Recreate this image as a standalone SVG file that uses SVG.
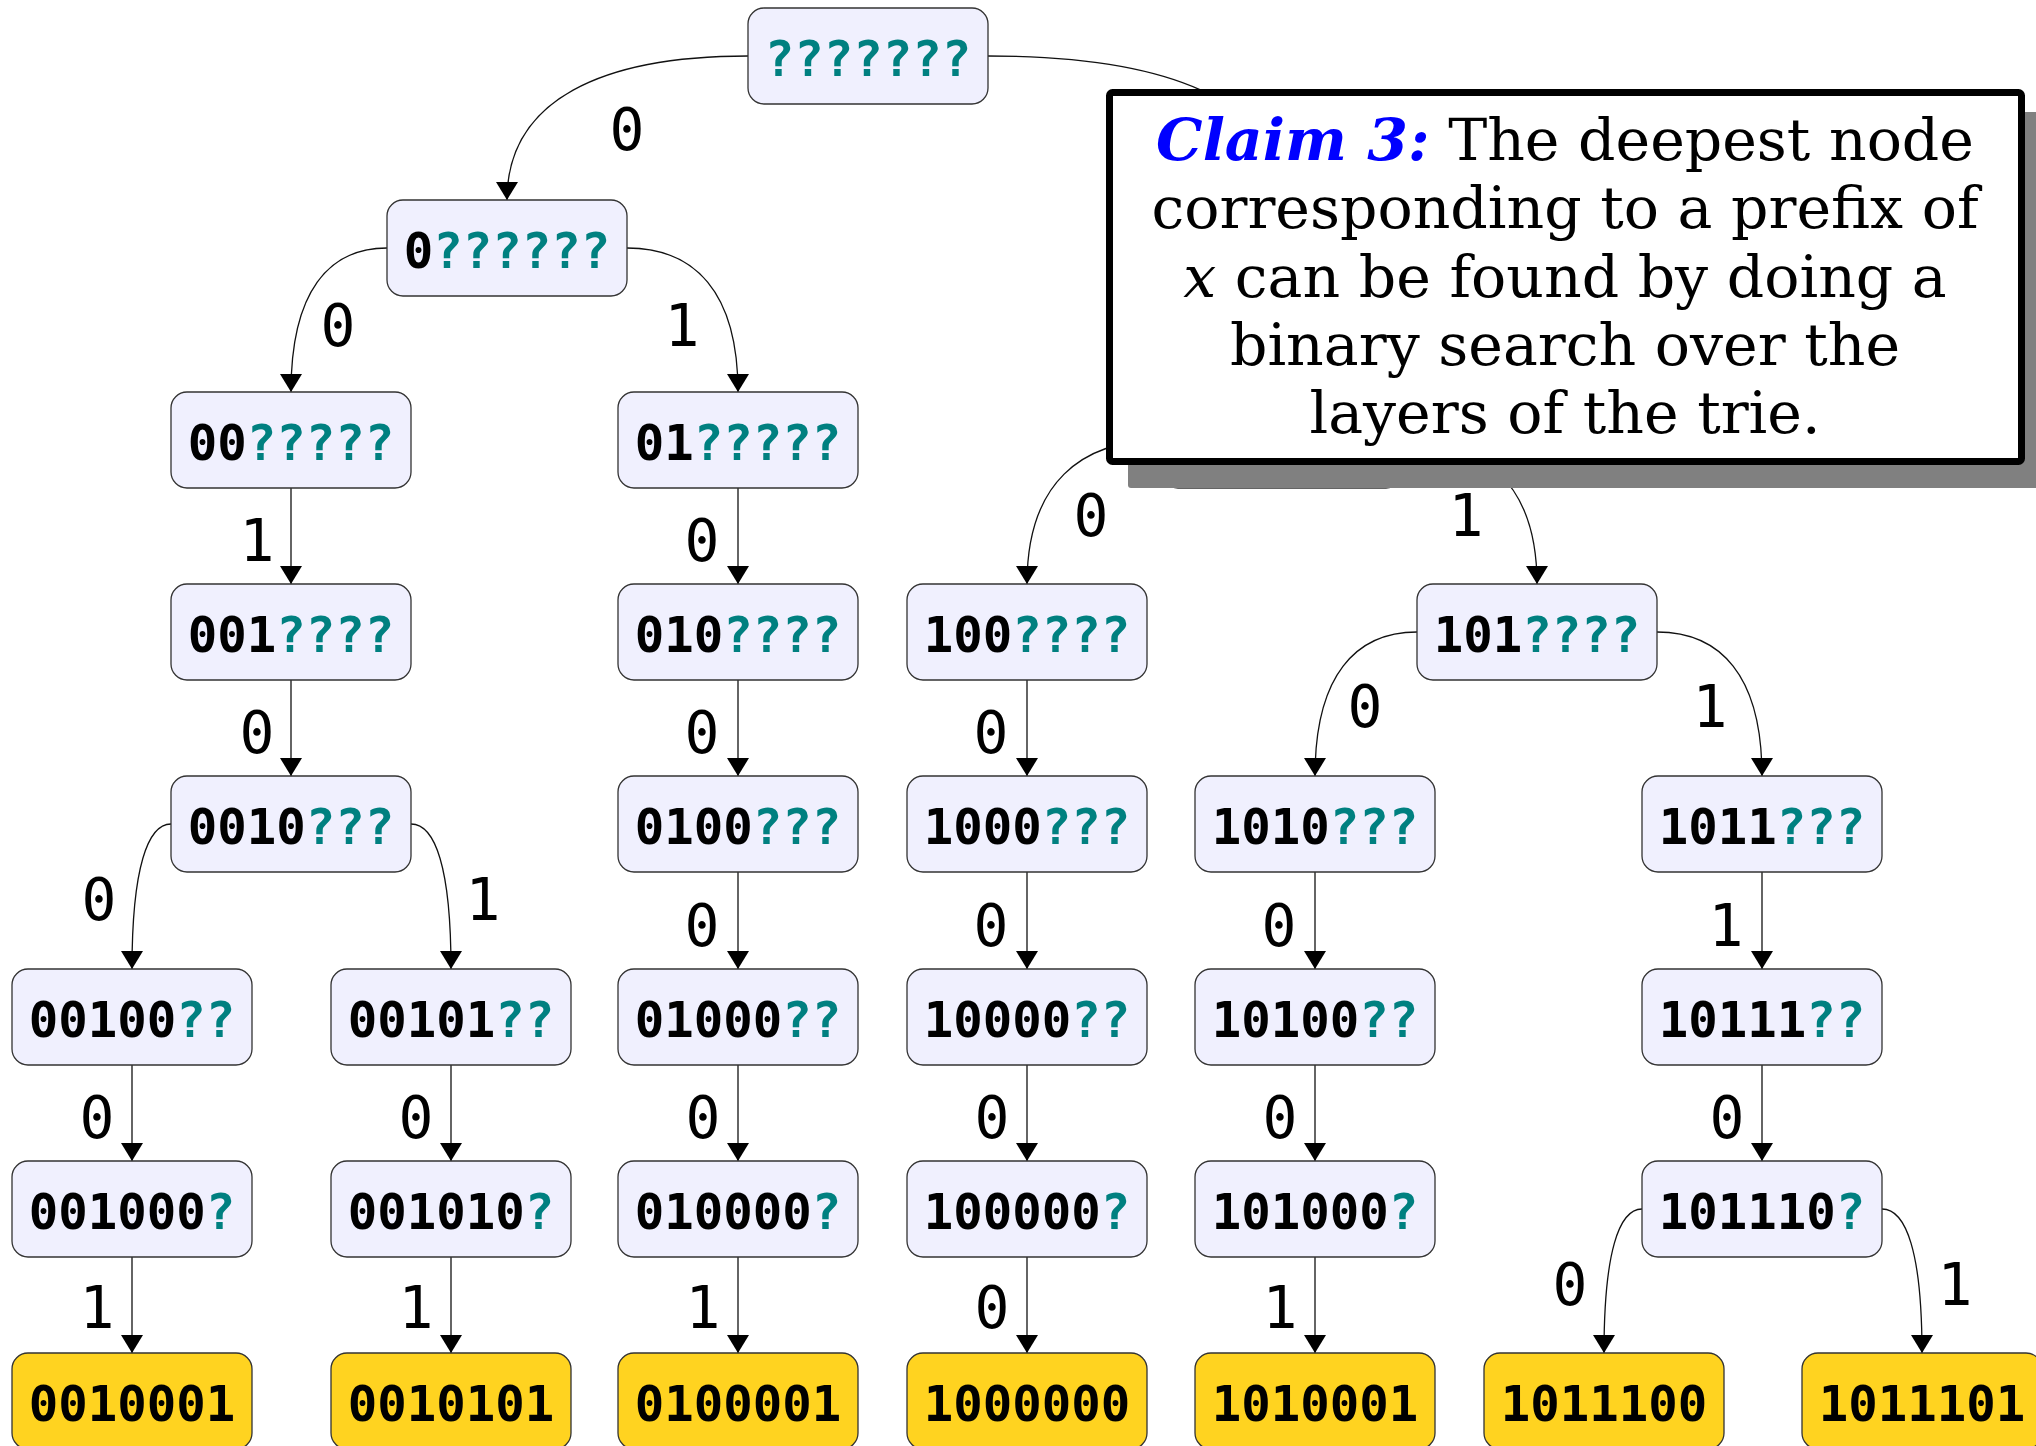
<svg xmlns="http://www.w3.org/2000/svg" width="2036" height="1446" viewBox="0 0 2036 1446">
<defs>
<marker id="arr" viewBox="0 0 18 22" refX="18" refY="11" markerWidth="18" markerHeight="22" markerUnits="userSpaceOnUse" orient="auto">
<path d="M0,0 L18,11 L0,22 z" fill="#000"/>
</marker>
</defs>
<style>
.n rect{fill:#f0f0fe;stroke:#333;stroke-width:1.3}
.leaf rect{fill:#ffd320;stroke:#333;stroke-width:1.3}
.nt{font-family:"DejaVu Sans Mono",monospace;font-weight:bold;font-size:49px;text-anchor:middle;fill:#000}
.q{fill:#008080}
.e path{fill:none;stroke:#111;stroke-width:1.3;marker-end:url(#arr)}
.lb{font-family:"DejaVu Sans Mono",monospace;font-size:58px;text-anchor:middle;fill:#000}
.ct{font-family:"DejaVu Serif",serif;font-size:58.5px;text-anchor:middle;fill:#000}
.cl{font-weight:bold;font-style:italic;fill:#0000ff}
</style>
<rect width="2036" height="1446" fill="#fff"/>

<g id="edges" class="e">
<path d="M748,56 C603,56 507,99 507,200"/>
<path d="M988,56 C1164,56 1282,99 1282,200"/>
<path d="M387,248 C329,248 291,291 291,392"/>
<path d="M627,248 C694,248 738,291 738,392"/>
<path d="M1282,296 L1282,392"/>
<path d="M1162,440 C1081,440 1027,483 1027,584"/>
<path d="M1402,440 C1483,440 1537,483 1537,584"/>
<path d="M1417,632 C1356,632 1315,675 1315,776"/>
<path d="M1657,632 C1720,632 1762,675 1762,776"/>
<path d="M171,824 C148,824 132,867 132,969"/>
<path d="M411,824 C435,824 451,867 451,969"/>
<path d="M1642,1209 C1619,1209 1604,1252 1604,1353"/>
<path d="M1882,1209 C1906,1209 1922,1252 1922,1353"/>
<path d="M291,488 L291,584"/>
<path d="M291,680 L291,776"/>
<path d="M738,488 L738,584"/>
<path d="M738,680 L738,776"/>
<path d="M738,872 L738,969"/>
<path d="M738,1065 L738,1161"/>
<path d="M738,1257 L738,1353"/>
<path d="M1027,680 L1027,776"/>
<path d="M1027,872 L1027,969"/>
<path d="M1027,1065 L1027,1161"/>
<path d="M1027,1257 L1027,1353"/>
<path d="M1315,872 L1315,969"/>
<path d="M1315,1065 L1315,1161"/>
<path d="M1315,1257 L1315,1353"/>
<path d="M1762,872 L1762,969"/>
<path d="M1762,1065 L1762,1161"/>
<path d="M132,1065 L132,1161"/>
<path d="M132,1257 L132,1353"/>
<path d="M451,1065 L451,1161"/>
<path d="M451,1257 L451,1353"/>
</g>

<g id="edge-labels">
<text class="lb" x="627" y="150">0</text>
<text class="lb" x="338" y="346">0</text>
<text class="lb" x="682" y="346">1</text>
<text class="lb" x="257" y="561">1</text>
<text class="lb" x="702" y="561">0</text>
<text class="lb" x="1091" y="536">0</text>
<text class="lb" x="1466" y="536">1</text>
<text class="lb" x="257" y="753">0</text>
<text class="lb" x="702" y="753">0</text>
<text class="lb" x="991" y="753">0</text>
<text class="lb" x="1365" y="727">0</text>
<text class="lb" x="1710" y="727">1</text>
<text class="lb" x="99" y="920">0</text>
<text class="lb" x="483" y="920">1</text>
<text class="lb" x="702" y="946">0</text>
<text class="lb" x="991" y="946">0</text>
<text class="lb" x="1279" y="946">0</text>
<text class="lb" x="1726" y="946">1</text>
<text class="lb" x="97" y="1138">0</text>
<text class="lb" x="416" y="1138">0</text>
<text class="lb" x="703" y="1138">0</text>
<text class="lb" x="992" y="1138">0</text>
<text class="lb" x="1280" y="1138">0</text>
<text class="lb" x="1727" y="1138">0</text>
<text class="lb" x="97" y="1328">1</text>
<text class="lb" x="416" y="1328">1</text>
<text class="lb" x="703" y="1328">1</text>
<text class="lb" x="992" y="1328">0</text>
<text class="lb" x="1280" y="1328">1</text>
<text class="lb" x="1570" y="1305">0</text>
<text class="lb" x="1955" y="1305">1</text>
</g>

<g id="n-root" class="n"><rect x="748" y="8" width="240" height="96" rx="16"/><text class="nt" x="868" y="76"><tspan class="q">???????</tspan></text></g>
<g id="n-0" class="n"><rect x="387" y="200" width="240" height="96" rx="16"/><text class="nt" x="507" y="268">0<tspan class="q">??????</tspan></text></g>
<g id="n-1" class="n"><rect x="1162" y="200" width="240" height="96" rx="16"/></g>
<g id="n-00" class="n"><rect x="171" y="392" width="240" height="96" rx="16"/><text class="nt" x="291" y="460">00<tspan class="q">?????</tspan></text></g>
<g id="n-01" class="n"><rect x="618" y="392" width="240" height="96" rx="16"/><text class="nt" x="738" y="460">01<tspan class="q">?????</tspan></text></g>
<g id="n-10" class="n"><rect x="1162" y="392" width="240" height="96" rx="16"/></g>
<g id="n-001" class="n"><rect x="171" y="584" width="240" height="96" rx="16"/><text class="nt" x="291" y="652">001<tspan class="q">????</tspan></text></g>
<g id="n-010" class="n"><rect x="618" y="584" width="240" height="96" rx="16"/><text class="nt" x="738" y="652">010<tspan class="q">????</tspan></text></g>
<g id="n-100" class="n"><rect x="907" y="584" width="240" height="96" rx="16"/><text class="nt" x="1027" y="652">100<tspan class="q">????</tspan></text></g>
<g id="n-101" class="n"><rect x="1417" y="584" width="240" height="96" rx="16"/><text class="nt" x="1537" y="652">101<tspan class="q">????</tspan></text></g>
<g id="n-0010" class="n"><rect x="171" y="776" width="240" height="96" rx="16"/><text class="nt" x="291" y="844">0010<tspan class="q">???</tspan></text></g>
<g id="n-0100" class="n"><rect x="618" y="776" width="240" height="96" rx="16"/><text class="nt" x="738" y="844">0100<tspan class="q">???</tspan></text></g>
<g id="n-1000" class="n"><rect x="907" y="776" width="240" height="96" rx="16"/><text class="nt" x="1027" y="844">1000<tspan class="q">???</tspan></text></g>
<g id="n-1010" class="n"><rect x="1195" y="776" width="240" height="96" rx="16"/><text class="nt" x="1315" y="844">1010<tspan class="q">???</tspan></text></g>
<g id="n-1011" class="n"><rect x="1642" y="776" width="240" height="96" rx="16"/><text class="nt" x="1762" y="844">1011<tspan class="q">???</tspan></text></g>
<g id="n-00100" class="n"><rect x="12" y="969" width="240" height="96" rx="16"/><text class="nt" x="132" y="1037">00100<tspan class="q">??</tspan></text></g>
<g id="n-00101" class="n"><rect x="331" y="969" width="240" height="96" rx="16"/><text class="nt" x="451" y="1037">00101<tspan class="q">??</tspan></text></g>
<g id="n-01000" class="n"><rect x="618" y="969" width="240" height="96" rx="16"/><text class="nt" x="738" y="1037">01000<tspan class="q">??</tspan></text></g>
<g id="n-10000" class="n"><rect x="907" y="969" width="240" height="96" rx="16"/><text class="nt" x="1027" y="1037">10000<tspan class="q">??</tspan></text></g>
<g id="n-10100" class="n"><rect x="1195" y="969" width="240" height="96" rx="16"/><text class="nt" x="1315" y="1037">10100<tspan class="q">??</tspan></text></g>
<g id="n-10111" class="n"><rect x="1642" y="969" width="240" height="96" rx="16"/><text class="nt" x="1762" y="1037">10111<tspan class="q">??</tspan></text></g>
<g id="n-001000" class="n"><rect x="12" y="1161" width="240" height="96" rx="16"/><text class="nt" x="132" y="1229">001000<tspan class="q">?</tspan></text></g>
<g id="n-001010" class="n"><rect x="331" y="1161" width="240" height="96" rx="16"/><text class="nt" x="451" y="1229">001010<tspan class="q">?</tspan></text></g>
<g id="n-010000" class="n"><rect x="618" y="1161" width="240" height="96" rx="16"/><text class="nt" x="738" y="1229">010000<tspan class="q">?</tspan></text></g>
<g id="n-100000" class="n"><rect x="907" y="1161" width="240" height="96" rx="16"/><text class="nt" x="1027" y="1229">100000<tspan class="q">?</tspan></text></g>
<g id="n-101000" class="n"><rect x="1195" y="1161" width="240" height="96" rx="16"/><text class="nt" x="1315" y="1229">101000<tspan class="q">?</tspan></text></g>
<g id="n-101110" class="n"><rect x="1642" y="1161" width="240" height="96" rx="16"/><text class="nt" x="1762" y="1229">101110<tspan class="q">?</tspan></text></g>
<g id="n-0010001" class="leaf"><rect x="12" y="1353" width="240" height="96" rx="16"/><text class="nt" x="132" y="1421">0010001</text></g>
<g id="n-0010101" class="leaf"><rect x="331" y="1353" width="240" height="96" rx="16"/><text class="nt" x="451" y="1421">0010101</text></g>
<g id="n-0100001" class="leaf"><rect x="618" y="1353" width="240" height="96" rx="16"/><text class="nt" x="738" y="1421">0100001</text></g>
<g id="n-1000000" class="leaf"><rect x="907" y="1353" width="240" height="96" rx="16"/><text class="nt" x="1027" y="1421">1000000</text></g>
<g id="n-1010001" class="leaf"><rect x="1195" y="1353" width="240" height="96" rx="16"/><text class="nt" x="1315" y="1421">1010001</text></g>
<g id="n-1011100" class="leaf"><rect x="1484" y="1353" width="240" height="96" rx="16"/><text class="nt" x="1604" y="1421">1011100</text></g>
<g id="n-1011101" class="leaf"><rect x="1802" y="1353" width="240" height="96" rx="16"/><text class="nt" x="1922" y="1421">1011101</text></g>

<g id="claim">
<rect x="1128" y="112" width="920" height="376" rx="3" fill="#808080"/>
<rect x="1109.5" y="92.5" width="912" height="369" rx="3" fill="#fff" stroke="#000" stroke-width="7"/>
<text class="ct" x="1565" y="160"><tspan class="cl">Claim 3:</tspan> The deepest node</text>
<text class="ct" x="1565" y="228">corresponding to a prefix of</text>
<text class="ct" x="1565" y="297"><tspan font-style="italic">x</tspan> can be found by doing a</text>
<text class="ct" x="1565" y="365">binary search over the</text>
<text class="ct" x="1565" y="433">layers of the trie.</text>
</g>
</svg>
